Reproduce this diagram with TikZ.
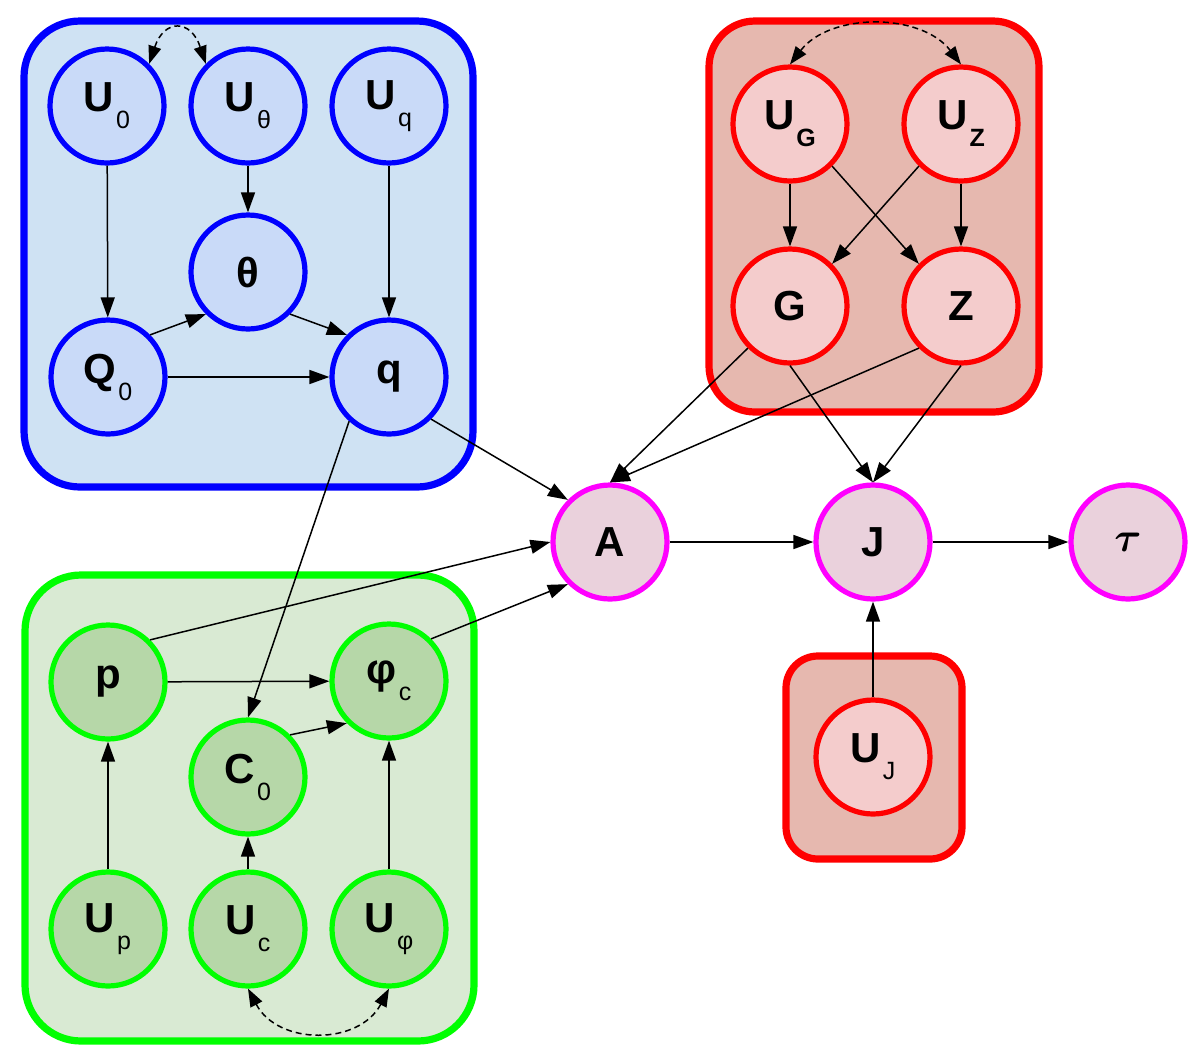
\documentclass[tikz,border=0pt]{standalone}
\usepackage{amsmath,amssymb}
\usepackage{fontspec}
\setmainfont{Liberation Sans}
\usetikzlibrary{arrows.meta}

\definecolor{boxblue}{HTML}{CFE2F3}
\definecolor{nodeblue}{HTML}{C9DAF8}
\definecolor{lineblue}{HTML}{0000FF}
\definecolor{boxred}{HTML}{E6B8AF}
\definecolor{nodered}{HTML}{F4CCCC}
\definecolor{linered}{HTML}{FF0000}
\definecolor{boxgreen}{HTML}{D9EAD3}
\definecolor{nodegreen}{HTML}{B6D7A8}
\definecolor{linegreen}{HTML}{00FF00}
\definecolor{nodepink}{HTML}{EAD1DC}
\definecolor{linepink}{HTML}{FF00FF}

% letter with a lowered index
\newcommand{\lbl}[2]{#1\kern1pt\raisebox{-8.5pt}{\fontsize{12.5}{14}\selectfont\mdseries #2}}

\tikzset{
  var/.style={circle, minimum size=57pt, inner sep=0pt, line width=2.6pt,
    font=\fontsize{21}{25}\selectfont\bfseries},
  bnode/.style={var, draw=lineblue, fill=nodeblue},
  rnode/.style={var, draw=linered, fill=nodered},
  gnode/.style={var, draw=linegreen, fill=nodegreen},
  mnode/.style={var, draw=linepink, fill=nodepink},
  arr/.style={-{Triangle[length=10pt,width=7pt]}, line width=0.75pt},
  biarr/.style={{Triangle[length=9pt,width=6.5pt]}-{Triangle[length=9pt,width=6.5pt]},
    line width=0.75pt, dash pattern=on 3pt off 2pt},
  group/.style={line width=3.6pt}
}

\begin{document}
\begin{tikzpicture}[x=0.5pt,y=-0.5pt]

\def\W{1196}
  \def\H{1057}
\useasboundingbox (0,0) rectangle (\W,\H);

% groups
\draw[group, draw=lineblue, fill=boxblue, rounded corners=28pt] (24,21) rectangle (473,487);
\draw[group, draw=linered, fill=boxred, rounded corners=23pt] (709,21) rectangle (1039,412);
\draw[group, draw=linegreen, fill=boxgreen, rounded corners=28pt] (25,575) rectangle (474,1041);
\draw[group, draw=linered, fill=boxred, rounded corners=16pt] (786,656) rectangle (962,859);

% blue part
\foreach \name/\x/\y/\txt in {U0/107/106/{\lbl{U}{0}}, Ut/248/106/{\lbl{U}{θ}},
    Uq/389/106/{\lbl{U}{q}}, th/248/272/{θ}, Q0/108/377/{\lbl{Q}{0}}, q/389/377/{q}}
  \node[bnode] (\name) at (\x,\y) {\txt};

% red part
\foreach \name/\x/\y/\txt in {UG/790/124/{\lbl{U}{\textbf{G}}}, UZ/961/124/{\lbl{U}{\textbf{Z}}},
    G/790/306/{G}, Z/961/306/{Z}, UJ/873/757/{\lbl{U}{J}}}
  \node[rnode] (\name) at (\x,\y) {\txt};

% green part
\foreach \name/\x/\y/\txt in {p/108/682/{p}, phi/389/681/{\lbl{φ}{c}}, C0/248/777/{\lbl{C}{0}},
    Up/108/929/{\lbl{U}{p}}, Uc/248/929/{\lbl{U}{c}}, Uphi/389/929/{\lbl{U}{φ}}}
  \node[gnode] (\name) at (\x,\y) {\txt};

\node[mnode] (A) at (610,542) {A};
\node[mnode] (J) at (873,542) {J};
\node[mnode] (tau) at (1128,542) {$\boldsymbol{\tau}$};

% arrows
\foreach \a/\b in {U0/Q0, Ut/th, Uq/q, Q0.45/th.225, th.315/q.135, Q0/q,
    UG/G, UZ/Z, UG.315/Z.135, UZ.225/G.45,
    Up/p, Uc/C0, Uphi/phi, p/phi, C0.45/phi.225,
    q.315/A.135, q.228/C0.north, G.225/A.north, Z.225/A.north, p.45/A.west, phi.45/A.225,
    G.south/J.north, Z.south/J.north, A/J, J/tau, UJ/J}
  \draw[arr] (\a) -- (\b);

% bidirected
\draw[biarr] (U0.45) .. controls +(15,-45) and +(-15,-45) .. (Ut.135);
\draw[biarr] (UG.north) .. controls +(40,-52) and +(-40,-52) .. (UZ.north);
\draw[biarr] (Uc.south) .. controls +(30,57) and +(-30,57) .. (Uphi.south);
\end{tikzpicture}
\end{document}
